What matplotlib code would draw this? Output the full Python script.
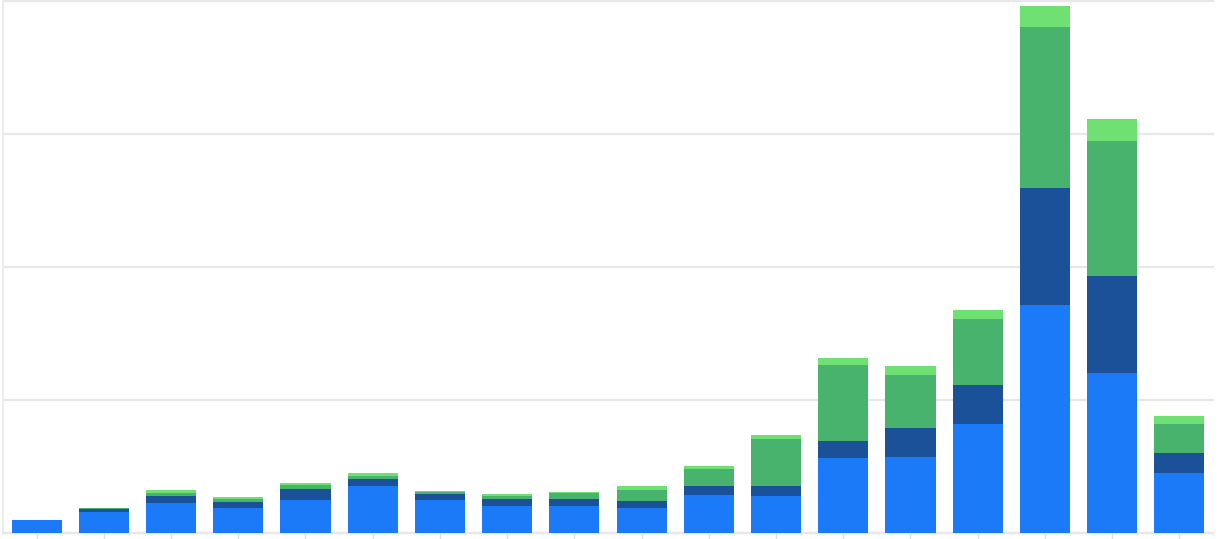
import matplotlib
matplotlib.use("Agg")
import matplotlib.pyplot as plt
import numpy as np

# one entry per bar, labels are not shown in the chart
periods = [f"P{i + 1}" for i in range(18)]

# stacked series, values in grid units (one gridline = 100)
base = [9.4, 15.8, 22, 18.8, 24.5, 35, 24.5, 20, 20, 18.5, 28.3, 27.5,
        55.8, 57, 82, 171.5, 120, 45.2]
second = [0.5, 2.3, 5.5, 4, 8.3, 5.5, 4.3, 5, 5.3, 5.5, 6.8, 7.3,
          13.3, 22, 29.3, 87.3, 73.3, 14.5]
third = [0, 0.4, 2.5, 2.8, 2.8, 2, 1.8, 2.5, 4.3, 8, 13, 35.8,
         57.3, 39.3, 49.3, 121.6, 101.1, 21.8]
fourth = [0, 0.4, 2, 1, 1.5, 2, 1, 1.3, 1.3, 2.8, 2.3, 2.5,
          4.8, 6.8, 7, 15.8, 16.5, 6.5]

series = [base, second, third, fourth]
colors = ["#1a7af8", "#1a5198", "#48b36d", "#6fe173"]

fig = plt.figure(figsize=(12.23, 5.39), dpi=100)
ax = fig.add_axes([3 / 1223, 6.3 / 539, 1210 / 1223, 532.2 / 539])

x = np.arange(len(periods))
bottom = np.zeros(len(periods))
for values, color in zip(series, colors):
    ax.bar(x, values, width=0.744, bottom=bottom, color=color, zorder=3)
    bottom += np.array(values)

ax.set_xlim(-0.5, 17.5)
ax.set_ylim(0, 400)
ax.set_yticks([0, 100, 200, 300, 400])
ax.set_xticks(x)
ax.set_xticklabels([])
ax.set_yticklabels([])
ax.tick_params(axis="y", length=0)
ax.tick_params(axis="x", length=4, color="#e0e0e0", width=1)
ax.grid(axis="y", color="#e8e8e8", linewidth=1.6, zorder=0)
for gl in ax.get_ygridlines():
    gl.set_clip_on(False)

for side in ["top", "right"]:
    ax.spines[side].set_visible(False)
ax.spines["left"].set_color("#ececec")
ax.spines["left"].set_linewidth(1.5)
ax.spines["bottom"].set_color("#e8e8e8")
ax.spines["bottom"].set_linewidth(1.6)

fig.savefig("out.png", dpi=100, facecolor="white")
